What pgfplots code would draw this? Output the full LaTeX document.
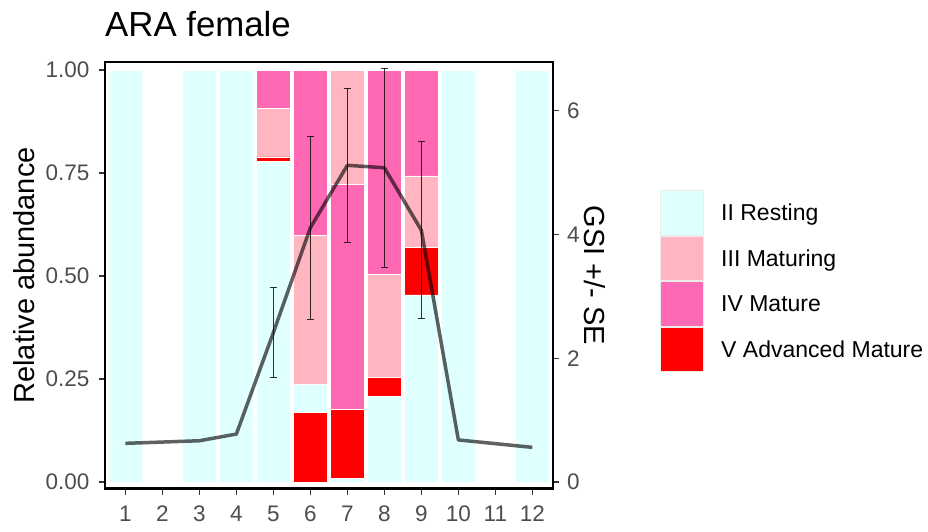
\documentclass[border=0pt]{standalone}
\usepackage{pgfplots}
\usepackage{pgfplotstable}
\pgfplotsset{compat=1.18}
\usepackage{fontspec}
\setmainfont{Liberation Sans}

\definecolor{resting}{HTML}{E0FFFF}
\definecolor{maturing}{HTML}{FFB6C1}
\definecolor{mature}{HTML}{FF69B4}
\definecolor{advanced}{HTML}{FF0000}
\definecolor{ticktext}{HTML}{4D4D4D}
\definecolor{tickline}{HTML}{333333}

% Share of each gonad stage per month, bottom to top of each bar
% (IIa/IIb and IVa/IVb are the same stage at two stack positions)
\pgfplotstableread{
month IIa    V     IIb   IVa   III   IVb
1     1      0     0     0     0     0
3     1      0     0     0     0     0
4     1      0     0     0     0     0
5     0.778  0.011 0     0     0.118 0.093
6     0      0.168 0.068 0     0.362 0.402
7     0.009  0.168 0     0.546 0.277 0
8     0.207  0.047 0     0     0.250 0.496
9     0.454  0.116 0     0     0.173 0.257
10    1      0     0     0     0     0
12    1      0     0     0     0     0
}\stages

% Mean gonadosomatic index per month
\pgfplotstableread{
month gsi
1     0.625
3     0.667
4     0.775
5     2.415
6     4.11
7     5.12
8     5.08
9     4.07
10    0.68
12    0.56
}\gsi

% Standard errors where several fish were sampled
\pgfplotstableread{
month gsi   se
5     2.415 0.73
6     4.11  1.48
7     5.12  1.245
8     5.08  1.61
9     4.07  1.43
}\gsise

\pgfplotsset{
  panel/.style={
    width=447.7pt, height=426.2pt, scale only axis,
    at={(105pt,42.5pt)}, anchor=south west,
    xmin=0.45, xmax=12.55,
    tick align=outside, major tick length=6pt,
    tick style={tickline, line width=1.2pt},
    ticklabel style={font=\fontsize{22.5}{26}\selectfont, text=ticktext},
    /pgf/number format/assume math mode=true,
    axis line style={black, line width=2.2pt},
  },
  seg/.style={fill=#1, draw=white, line width=0.7pt, forget plot},
}

\begin{document}
\begin{tikzpicture}
\useasboundingbox (0,0) rectangle (928pt,531pt);

\begin{axis}[panel,
  ymin=-0.0158, ymax=1.0187,
  axis on top,
  ybar stacked, bar width=0.9,
  xtick={1,...,12}, xtick pos=bottom,
  xticklabel style={yshift=-8pt},
  ytick={0,0.25,0.5,0.75,1}, ytick pos=left,
  yticklabel style={xshift=-6pt, /pgf/number format/.cd, fixed, fixed zerofill, precision=2},
  title={ARA female},
  title style={at={(axis description cs:0,1.046)}, anchor=base west,
    font=\fontsize{34.8}{40}\selectfont, inner sep=0pt},
  ylabel={Relative abundance},
  every axis y label/.style={at={(axis description cs:-0.181,0.5)},
    rotate=90, anchor=center, font=\fontsize{29}{33}\selectfont, inner sep=0pt},
]
\addplot[seg=resting]  table[x=month, y=IIa]{\stages};
\addplot[seg=advanced] table[x=month, y=V]{\stages};
\addplot[seg=resting]  table[x=month, y=IIb]{\stages};
\addplot[seg=mature]   table[x=month, y=IVa]{\stages};
\addplot[seg=maturing] table[x=month, y=III]{\stages};
\addplot[seg=mature]   table[x=month, y=IVb]{\stages};
\end{axis}

\begin{axis}[panel,
  ymin=-0.105, ymax=6.785,
  axis x line=none, axis y line*=right,
  ytick={0,2,4,6},
  yticklabel style={xshift=5pt},
  ylabel={GSI +/- SE},
  every axis y label/.style={at={(axis description cs:1.0945,0.5)},
    rotate=-90, anchor=center, font=\fontsize{29}{33}\selectfont, inner sep=0pt},
  legend style={at={(axis description cs:1.2397,0.7004)}, anchor=north west,
    draw=none, fill=none, inner sep=0pt, row sep=0pt, column sep=17pt,
    nodes={inner sep=0pt, anchor=west}, font=\fontsize{23}{26}\selectfont},
  legend cell align=left,
  legend image code/.code={%
    \draw[#1, draw=white!92!black, line width=1pt] (0pt,-22.25pt) rectangle (43pt,22.25pt);},
]
\addplot[black, opacity=0.62, line width=3.5pt, line join=round, forget plot]
  table[x=month, y=gsi]{\gsi};
\addplot[draw=none, mark=none, forget plot,
  error bars/.cd, y dir=both, y explicit, error mark=-,
  error bar style={draw=black, line width=0.8pt, opacity=0.8},
  error mark options={draw=black, rotate=90, line width=0.8pt, mark size=3.4pt, opacity=0.8}]
  table[x=month, y=gsi, y error=se]{\gsise};

\addlegendimage{fill=resting}
\addlegendentry{II Resting}
\addlegendimage{fill=maturing}
\addlegendentry{III Maturing}
\addlegendimage{fill=mature}
\addlegendentry{IV Mature}
\addlegendimage{fill=advanced}
\addlegendentry{V Advanced Mature}
\end{axis}
\end{tikzpicture}
\end{document}
